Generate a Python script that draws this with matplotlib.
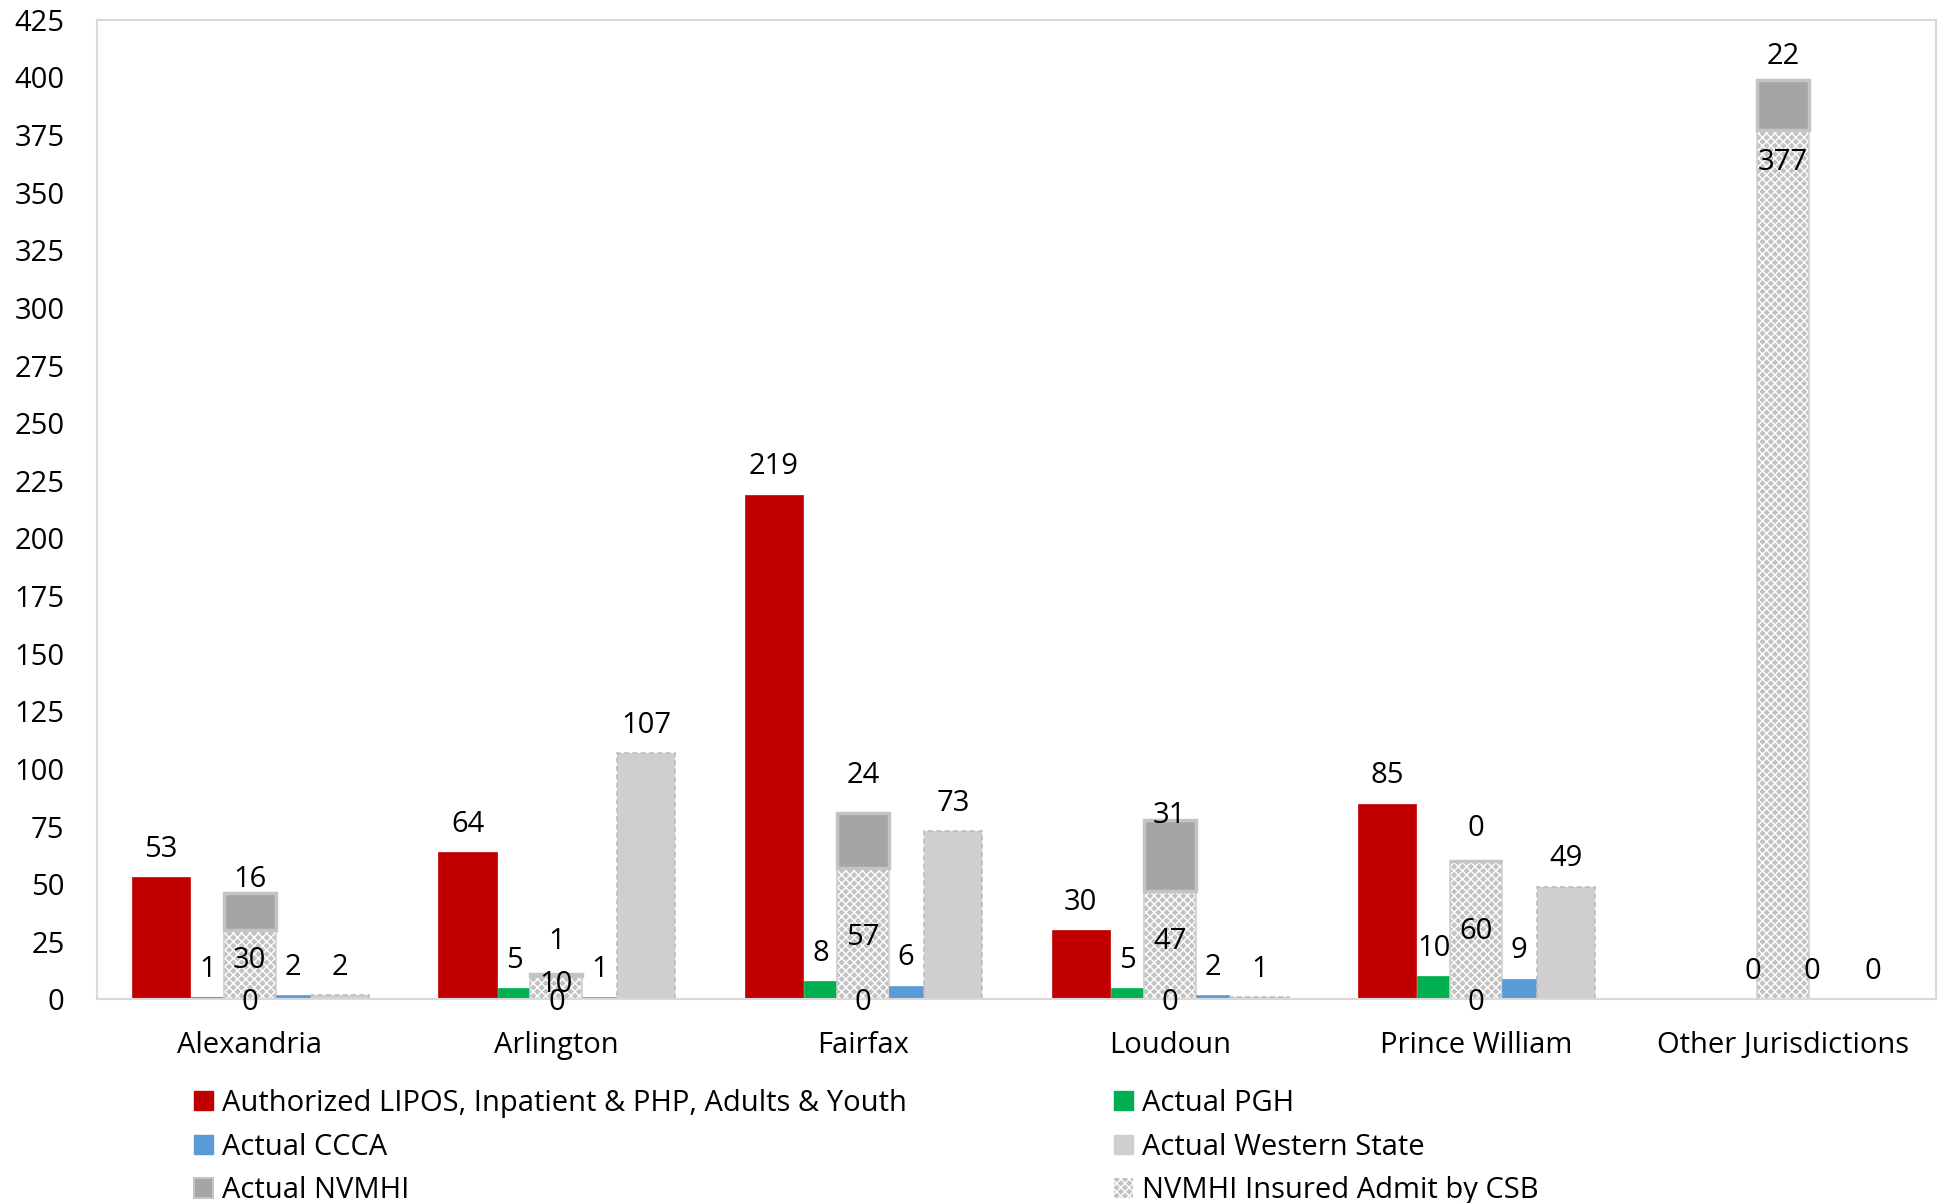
import matplotlib
matplotlib.use("Agg")
import matplotlib.pyplot as plt
import numpy as np
from matplotlib.patches import Patch

plt.rcParams['font.family'] = ['Open Sans', 'DejaVu Sans']
plt.rcParams['hatch.linewidth'] = 1.0

categories = ["Alexandria", "Arlington", "Fairfax", "Loudoun", "Prince William", "Other Jurisdictions"]
authorized = [53, 64, 219, 30, 85, None]
actual_pgh = [1, 5, 8, 5, 10, 0]
nvmhi_insured = [30, 10, 57, 47, 60, 377]
actual_nvmhi = [16, 1, 24, 31, 0, 22]
actual_ccca = [2, 1, 6, 2, 9, 0]
western_state = [2, 107, 73, 1, 49, 0]
stack_base_zero = [0, 0, 0, 0, 0, None]

series_names = ["Authorized LIPOS, Inpatient & PHP, Adults & Youth", "Actual PGH",
                "Actual CCCA", "Actual Western State", "Actual NVMHI", "NVMHI Insured Admit by CSB"]
yticks = list(range(0, 426, 25))

# label placement (data units) for the stacked bar labels
insured_label_y = [17, 6.5, 27, 25, 29.5, 363]
nvmhi_label_y = [52, 25, 97, 80, 74, 409]

fig = plt.figure(figsize=(19.42, 12.03), dpi=100)
ax = fig.add_axes([0.0497, 0.1692, 0.9473, 0.8143])

x = np.arange(len(categories))
FS = 21

def vals(a):
    return np.array([np.nan if v is None else v for v in a], dtype=float)

off = {"red": -0.29, "green": -0.137, "stack": 0.0, "blue": 0.14, "gray": 0.293}
wid = {"red": 0.19, "green": 0.11, "stack": 0.17, "blue": 0.11, "gray": 0.19}

HATCH_FACE = "#C2C2C2"
ax.bar(x + off["red"], vals(authorized), wid["red"], color="#C00000", edgecolor="#C00000", linewidth=0.5)
ax.bar(x + off["green"], vals(actual_pgh), wid["green"], color="#00B050", edgecolor="#00B050", linewidth=0.5)
ax.bar(x + off["stack"], vals(nvmhi_insured), wid["stack"], color=HATCH_FACE, edgecolor="white",
       hatch="xxxx", linewidth=0.0)
ax.bar(x + off["stack"], vals(nvmhi_insured), wid["stack"], fill=False, edgecolor="#D0D0D0", linewidth=1.2)
ax.bar(x + off["stack"], vals(actual_nvmhi), wid["stack"], bottom=vals(nvmhi_insured),
       color="#A5A5A5", edgecolor="#C4C4C4", linewidth=2.5)
ax.bar(x + off["blue"], vals(actual_ccca), wid["blue"], color="#5B9BD5", edgecolor="#5B9BD5", linewidth=0.5)
ax.bar(x + off["gray"], vals(western_state), wid["gray"], color="#D0CECE", edgecolor="#BDBDBD",
       linewidth=1.2, linestyle=(0, (3, 2)))

def label_above(offset, data, zero_shift=0.0):
    for i, v in enumerate(data):
        if v is None:
            continue
        xs = x[i] + offset + (zero_shift if v == 0 else 0.0)
        ax.annotate(str(v), (xs, v), xytext=(0, 20), textcoords="offset points",
                    ha="center", va="center", fontsize=FS)

label_above(off["red"], authorized)
label_above(off["green"], actual_pgh, zero_shift=0.04)
label_above(off["blue"], actual_ccca, zero_shift=-0.045)
label_above(off["gray"], western_state)

for i, v in enumerate(nvmhi_insured):
    ax.text(x[i], insured_label_y[i], str(v), ha="center", va="center", fontsize=FS)
for i, v in enumerate(actual_nvmhi):
    ax.text(x[i], nvmhi_label_y[i], str(v), ha="center", va="center", fontsize=FS)
for i, v in enumerate(stack_base_zero):
    if v is None:
        continue
    ax.annotate(str(v), (x[i], v), xytext=(0, -2), textcoords="offset points",
                ha="center", va="center", fontsize=FS)

ax.set_xlim(-0.5, len(categories) - 0.5)
ax.set_ylim(0, 425)
ax.set_yticks(yticks)
ax.set_yticklabels([str(t) for t in yticks], fontsize=FS)
ax.set_xticks(x)
ax.set_xticklabels(categories, fontsize=FS)
ax.tick_params(axis="both", length=0)
ax.tick_params(axis="y", pad=23)
ax.tick_params(axis="x", pad=23)
for s in ax.spines.values():
    s.set_color("#D9D9D9")
    s.set_linewidth(1.5)

handles = [
    Patch(facecolor="#C00000", edgecolor="#C00000"),
    Patch(facecolor="#5B9BD5", edgecolor="#5B9BD5"),
    Patch(facecolor="#A5A5A5", edgecolor="#C4C4C4", linewidth=1.5),
    Patch(facecolor="#00B050", edgecolor="#00B050"),
    Patch(facecolor="#D0CECE", edgecolor="#D0CECE"),
    Patch(facecolor=HATCH_FACE, edgecolor="white", hatch="xxxx", linewidth=0),
]
labels = [series_names[0], series_names[2], series_names[4], series_names[1], series_names[3], series_names[5]]
fig.legend(handles, labels, ncol=2, loc="upper left", bbox_to_anchor=(0.1, 0.095),
           frameon=False, fontsize=FS, handlelength=0.65, handleheight=0.65, handletextpad=0.3,
           columnspacing=7.1, labelspacing=0.51, borderpad=0, borderaxespad=0)

fig.savefig("out.png", dpi=100)
